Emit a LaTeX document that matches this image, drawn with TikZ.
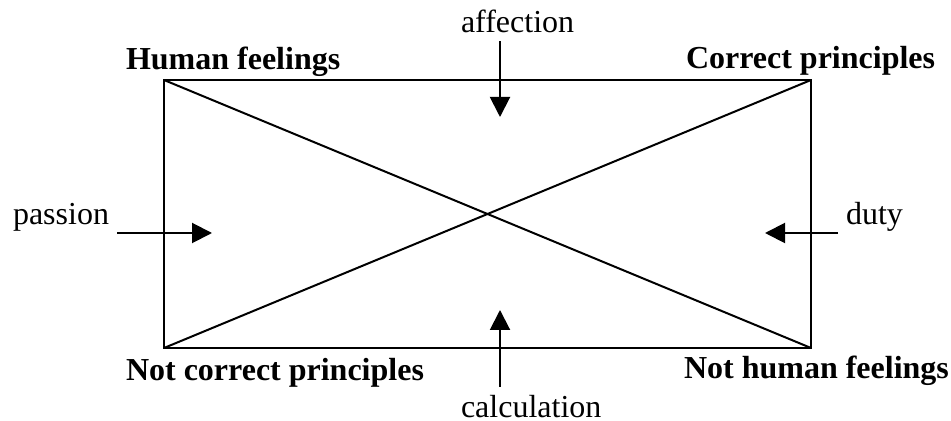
\documentclass[tikz,border=0pt]{standalone}
\usepackage{fontspec}
\setmainfont{Liberation Serif}
\usepackage{tikz}
\usetikzlibrary{arrows.meta}

\begin{document}
\begin{tikzpicture}[x=0.5pt, y=-0.5pt, line width=1pt,
    font=\fontsize{16}{19}\selectfont,
    lab/.style={inner sep=3.5pt, anchor=base west},
    corner/.style={lab, font=\fontsize{16}{19}\selectfont\bfseries},
    pointer/.style={-{Triangle[length=10pt, width=10pt]}}]
  \useasboundingbox (0,0) rectangle (951,421);
  % corners of the square
  \coordinate (hfC) at (164,80);
  \coordinate (cpC) at (811,80);
  \coordinate (ncpC) at (164,348);
  \coordinate (nhfC) at (811,348);
  \draw (hfC) -- (cpC) -- (nhfC) -- (ncpC) -- cycle;
  \draw (hfC) -- (nhfC);
  \draw (ncpC) -- (cpC);
  % corner labels
  \node[corner] (hf) at (118,70) {Human feelings};
  \node[corner] (cp) at (678,69) {Correct principles};
  \node[corner] (ncp) at (118,380) {Not correct principles};
  \node[corner] (nhf) at (676,379) {Not human feelings};
  % side labels
  \node[lab] (affection) at (453,33) {affection};
  \node[lab] (passion) at (5,225) {passion};
  \node[lab] (duty) at (838,225) {duty};
  \node[lab] (calculation) at (453,417) {calculation};
  % arrows
  \coordinate (aTip) at (500,117);
  \coordinate (cTip) at (500,310);
  \coordinate (pTip) at (212,233);
  \coordinate (dTip) at (765,233);
  \draw[pointer] (aTip |- affection.south) -- (aTip);
  \draw[pointer] (cTip |- calculation.north) -- (cTip);
  \draw[pointer] (passion.east |- pTip) -- (pTip);
  \draw[pointer] (duty.west |- dTip) -- (dTip);
\end{tikzpicture}
\end{document}
